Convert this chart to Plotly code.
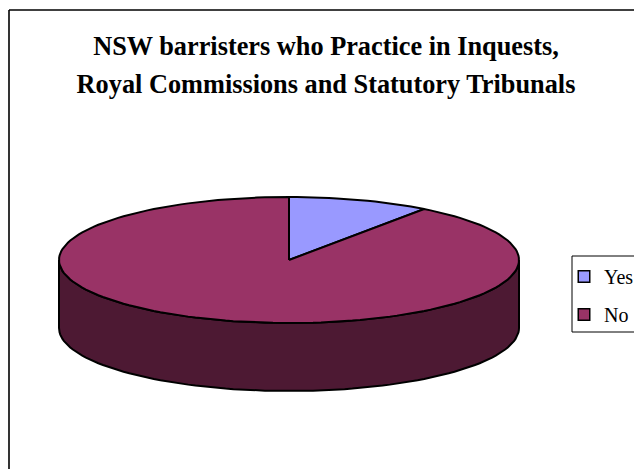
import numpy as np
import plotly.graph_objects as go

categories = ["Yes", "No"]
values = [10, 90]
colors = ["#9999FF", "#993366"]
side_color = "#4D1933"
title_lines = ["NSW barristers who Practice in Inquests,", "Royal Commissions and Statutory Tribunals"]

W, H = 634, 469
CX, CY, RX, RY, DEPTH = 289, 260, 230, 63, 68
OUT = dict(color="black", width=2)


def rim(a0, a1, step=2.0):
    n = max(2, int(abs(a1 - a0) / step) + 1)
    a = np.radians(np.linspace(a0, a1, n))
    return np.sin(a), np.cos(a)


fig = go.Figure()
total = sum(values)
shares = np.array(values) / total * 360
starts = np.concatenate([[0], np.cumsum(shares)[:-1]])

# side wall: the visible front half of the disc, taken from each slice's arc
d = DEPTH / RY
for s, sh, c in zip(starts, shares, colors):
    lo, hi = max(s, 90), min(s + sh, 270)
    if lo < hi:
        x, y = rim(lo, hi)
        fig.add_trace(go.Scatter(
            x=np.r_[x, x[::-1], x[0]], y=np.r_[y, y[::-1] - d, y[0]],
            mode="lines", fill="toself", fillcolor=side_color,
            line=OUT, showlegend=False, hoverinfo="skip"))

# top face
for s, sh, c, name in zip(starts, shares, colors, categories):
    x, y = rim(s, s + sh)
    fig.add_trace(go.Scatter(
        x=np.r_[0, x, 0], y=np.r_[0, y, 0],
        mode="lines", fill="toself", fillcolor=c,
        line=OUT, name=name, showlegend=False, hoverinfo="skip"))

# legend keys
for name, c in zip(categories, colors):
    fig.add_trace(go.Scatter(
        x=[None], y=[None], mode="markers", name=name, legendgroup=name,
        marker=dict(symbol="square", size=11.5, color=c, line=dict(color="black", width=1.5))))

title = "<br>".join(f'<span style="font-size:26.3px">{t}</span>' for t in title_lines)
fig.update_layout(
    width=W, height=H, margin=dict(l=0, r=0, t=0, b=0, autoexpand=False),
    paper_bgcolor="white", plot_bgcolor="white",
    font=dict(family="Liberation Serif", color="black"),
    title=dict(text=title, x=326 / W, xanchor="center", y=1 - 55 / H, yanchor="middle",
               font=dict(family="Liberation Serif", size=29.5, weight="bold", color="black")),
    xaxis=dict(visible=False, range=[-CX / RX, (W - CX) / RX], fixedrange=True),
    yaxis=dict(visible=False, range=[(CY - H) / RY, CY / RY], fixedrange=True),
    showlegend=True,
    legend=dict(x=564 / W, y=1 - 257 / H, xanchor="left", yanchor="top",
                bgcolor="rgba(0,0,0,0)", borderwidth=0, font=dict(size=20),
                traceorder="grouped", tracegroupgap=9, itemclick=False, itemdoubleclick=False),
    shapes=[
        dict(type="line", xref="paper", yref="paper", x0=9 / W, x1=1, y0=1 - 10 / H, y1=1 - 10 / H,
             line=dict(color="black", width=1.6)),
        dict(type="line", xref="paper", yref="paper", x0=9 / W, x1=9 / W, y0=0, y1=1 - 10 / H,
             line=dict(color="black", width=1.6)),
        dict(type="rect", xref="paper", yref="paper", x0=572 / W, x1=1.02, y0=1 - 332 / H, y1=1 - 256 / H,
             line=dict(color="black", width=1)),
    ],
)
fig.write_html("out.html", config=dict(displayModeBar=False),
               post_script="document.body.style.margin='0';document.body.style.overflow='hidden';")
